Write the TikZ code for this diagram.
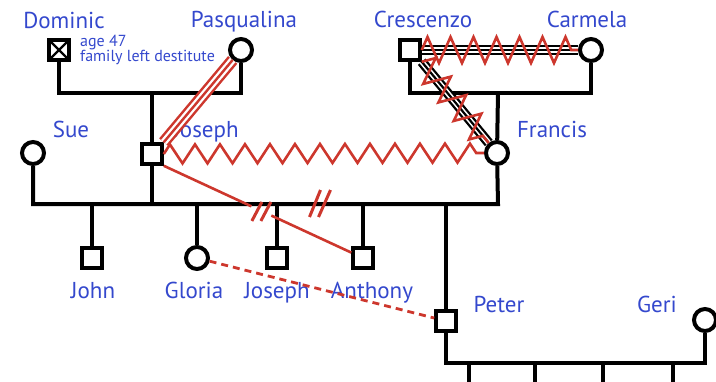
\documentclass[tikz,border=0pt]{standalone}
\usepackage{fontspec}
\setmainfont{PT Sans}
\usetikzlibrary{decorations.pathmorphing,calc,backgrounds}
\definecolor{lblue}{RGB}{52,72,205}
\definecolor{rel}{RGB}{205,55,45}
\begin{document}
\begin{tikzpicture}[x=1pt,y=-1pt,
 male/.style={draw, rectangle, line width=4pt, minimum size=19.5pt, inner sep=0pt, fill=white},
 female/.style={draw, circle, line width=4pt, minimum size=22pt, inner sep=0pt, fill=white},
 lbl/.style={text=lblue, font=\fontsize{23}{23}\selectfont, anchor=base, inner sep=0pt},
 note/.style={text=lblue, font=\fontsize{16}{16}\selectfont, anchor=base west, inner sep=0pt},
 kin/.style={line width=4pt},
 triple/.style={draw=#1, line width=10pt, postaction={draw=white, line width=5.4pt}, postaction={draw=#1, line width=2.2pt}},
 triplered/.style={draw=rel, line width=12pt, postaction={draw=white, line width=7pt}, postaction={draw=rel, line width=2.4pt}},
 hostile/.style={draw=rel, line width=2.6pt, decorate, decoration={zigzag, segment length=#1, amplitude=13pt}},
 conflict/.style={draw=rel, line width=2.6pt, decorate, decoration={zigzag, segment length=25pt, amplitude=9.5pt}},
 redline/.style={draw=rel, line width=2.6pt},
 cutmark/.style={draw=rel, line width=3pt},
 dashrel/.style={draw=rel, line width=2.8pt, dash pattern=on 7pt off 5pt}]
\useasboundingbox (0,0) rectangle (716,381);
% persons
\node[male, path picture={\draw[line width=2.2pt] (path picture bounding box.north west) -- (path picture bounding box.south east) (path picture bounding box.north east) -- (path picture bounding box.south west);}] (D) at (59,50) {};
\node[female] (P) at (241,50) {};
\node[male] (C) at (410,50) {};
\node[female] (Ca) at (591,50) {};
\node[female] (S) at (33,153) {};
\node[male] (J) at (152,154) {};
\node[female] (F) at (497,153) {};
\node[male] (Jo) at (92,258) {};
\node[female] (Gl) at (197,258) {};
\node[male] (Js) at (277,258) {};
\node[male] (A) at (363,258) {};
\node[male] (Pe) at (446,321) {};
\node[female] (G) at (705,320) {};
% labels
\node[lbl] (lD) at (64,28) {Dominic};
\node[lbl] (lP) at (244,27) {Pasqualina};
\node[lbl] (lC) at (423,27) {Crescenzo};
\node[lbl] (lCa) at (587,27) {Carmela};
\node[lbl] (lS) at (71,137) {Sue};
\node[lbl] (lJ) at (206,137) {Joseph};
\node[lbl] (lF) at (552,137) {Francis};
\node[lbl] (lJo) at (93,298) {John};
\node[lbl] (lGl) at (194,298) {Gloria};
\node[lbl] (lJs) at (277,298) {Joseph};
\node[lbl] (lA) at (372,298) {Anthony};
\node[lbl] (lPe) at (499,312) {Peter};
\node[lbl] (lG) at (657,312) {Geri};
\node[note] (n1) at (80,46) {age 47};
\node[note] (n2) at (80,61) {family left destitute};
% coordinates
\coordinate (m1) at (152,93);
\coordinate (m2) at (498,93);
\coordinate (sibR) at (498,204);
\coordinate (pgR) at (705,363);
\coordinate (k1) at (469,363);
\coordinate (k2) at (535,363);
\coordinate (k3) at (603,363);
\coordinate (k4) at (673,363);
\coordinate (dv) at (320,204);
% family lines
\begin{scope}[on background layer]
\draw[kin] (D) |- (m1) -| (P);
\draw[kin] (m1) -- (J);
\draw[kin] (C) |- (m2) -| (Ca);
\draw[kin] (m2) -- (F);
\draw[kin] (S) |- (sibR) -- (F);
\draw[kin] (J) -- (J |- sibR);
\foreach \c in {Jo,Gl,Js,A,Pe} \draw[kin] (\c) -- (\c |- sibR);
\draw[kin] (Pe) |- (pgR) -- (G);
\foreach \k in {k1,k2,k3,k4} \draw[kin] (\k) -- ($(\k)+(0,30)$);
\end{scope}
% relationships
\draw[triplered] (J.north east) -- (P);
\draw[triple=black] (C) -- (Ca);
\draw[triple=black] (C.south east) -- (F);
\draw[hostile=23pt] (C.east) -- (Ca.west);
\draw[hostile=24pt] (C.south east) -- (F);
\draw[conflict] (J.east) -- (F.west);
\draw[redline] (J.south east) -- ($(J.south east)!0.44!(A)$);
\draw[redline] ($(J.south east)!0.54!(A)$) -- (A);
\coordinate (cm) at ($(J.south east)!0.49!(A)$);
\draw[cutmark] ($(cm)+(-9.5,10)$) -- ($(cm)+(0.5,-9)$);
\draw[cutmark] ($(cm)+(-0.5,10)$) -- ($(cm)+(9.5,-9)$);
\draw[cutmark] ($(dv)+(-10.5,13)$) -- ($(dv)+(0.5,-14)$);
\draw[cutmark] ($(dv)+(-1.5,13)$) -- ($(dv)+(10.5,-14)$);
\draw[dashrel] (Gl) -- (Pe);
\end{tikzpicture}
\end{document}
